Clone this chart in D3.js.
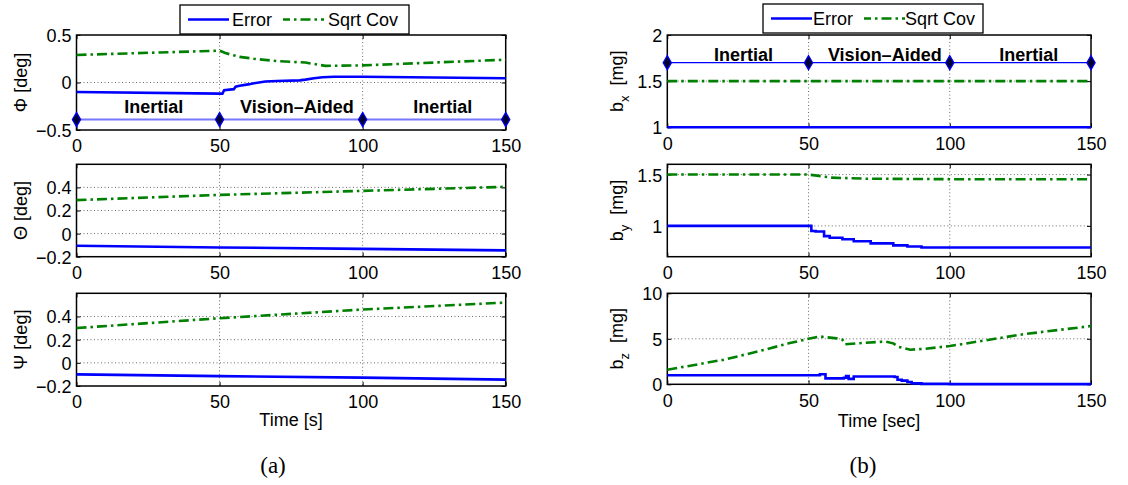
<!DOCTYPE html>
<html><head><meta charset="utf-8">
<script src="https://cdn.jsdelivr.net/npm/d3@7"></script>
<style>
html,body{margin:0;padding:0;background:#fff;}
svg{display:block;font-family:"Liberation Sans",Arial,Helvetica,sans-serif;}
</style></head>
<body><svg id="c" width="1128" height="485"></svg>
<script>
// ---------- data ----------
const timeTicks = [0, 50, 100, 150];
const phaseTimes = [0, 50, 100, 150];
const phaseLabels = ["Inertial", "Vision\u2013Aided", "Inertial"];
const phaseLabelT = [27, 77, 128];

// (a) attitude errors [deg]
const phiErrT = [0, 50, 51, 51.6, 55, 55.6, 57, 60, 62, 66, 70, 78, 80, 83, 86, 90, 100, 150];
const phiErrV = [-0.10, -0.117, -0.117, -0.08, -0.07, -0.045, -0.035, -0.02, -0.008, 0.01, 0.015, 0.022, 0.03, 0.045, 0.055, 0.06, 0.06, 0.045];
const phiCovT = [0, 50, 52, 57, 62, 70, 80, 87, 100, 125, 150];
const phiCovV = [0.29, 0.335, 0.31, 0.27, 0.25, 0.225, 0.21, 0.175, 0.18, 0.21, 0.24];
const thetaT = [0, 50, 100, 150];
const thetaErrV = [-0.105, -0.12, -0.132, -0.145];
const thetaCovV = [0.29, 0.335, 0.37, 0.405];
const psiT = [0, 50, 100, 150];
const psiErrV = [-0.10, -0.115, -0.128, -0.145];
const psiCovV = [0.30, 0.385, 0.46, 0.52];

// (b) accelerometer bias [mg]
const bxT = [0, 150];
const bxErrV = [1.0, 1.0];
const bxCovV = [1.5, 1.5];
const byErrT = [0, 51, 52.5, 55.5, 57.5, 62, 66, 72, 80, 85, 90, 150];
const byErrV = [1.0, 0.95, 0.945, 0.9, 0.885, 0.87, 0.85, 0.83, 0.81, 0.80, 0.79, 0.79];
const byCovT = [0, 50, 53, 58, 70, 100, 150];
const byCovV = [1.5, 1.5, 1.49, 1.47, 1.46, 1.455, 1.455];
const bzErrT = [0, 54, 56, 62.5, 63.3, 64.2, 66, 80.5, 81.5, 83, 85, 86.5, 90, 100, 150];
const bzErrV = [1.0, 1.1, 0.65, 0.72, 0.9, 0.6, 0.85, 0.8, 0.5, 0.4, 0.25, 0.1, 0.05, 0.02, 0.02];
const bzCovT = [0, 20, 32, 43, 50, 54, 60, 62, 63, 67, 77, 80, 82, 86, 91, 100, 114, 126, 150];
const bzCovV = [1.6, 2.7, 3.6, 4.5, 5.0, 5.25, 5.05, 4.9, 4.4, 4.5, 4.7, 4.5, 4.1, 3.8, 3.9, 4.2, 4.9, 5.5, 6.4];

// tick labels
const phiTicks = [-0.5, 0, 0.5];
const angTicks = [-0.2, 0, 0.2, 0.4];
const bxTicks = [1, 1.5, 2];
const byTicks = [1, 1.5];
const bzTicks = [0, 5, 10];

const zip = (t, v) => t.map((x, i) => [x, v[i]]);
const fmt = v => (v < 0 ? "\u2212" : "") + String(Math.abs(v));

// ---------- drawing ----------
const svg = d3.select("#c");
const BLUE = "#0000ff", GREEN = "#008000";
const COVDASH = "10,4,2.5,4";

function panel(o) {
  const x = d3.scaleLinear().domain([0, 150]).range([o.x0, o.x1]);
  const y = d3.scaleLinear().domain(o.ydom).range([o.y1, o.y0]);
  const g = svg.append("g");
  // grid
  timeTicks.filter(t => t > 0 && t < 150).forEach(t => {
    g.append("line").attr("x1", x(t)).attr("x2", x(t)).attr("y1", o.y0).attr("y2", o.y1)
      .attr("stroke", "#444").attr("stroke-width", 0.8).attr("stroke-dasharray", "1,2.5");
  });
  o.yticks.filter(v => v > o.ydom[0] && v < o.ydom[1]).forEach(v => {
    g.append("line").attr("x1", o.x0).attr("x2", o.x1).attr("y1", y(v)).attr("y2", y(v))
      .attr("stroke", "#444").attr("stroke-width", 0.8).attr("stroke-dasharray", "1,2.5");
  });
  // axes via d3
  const ax = g.append("g").attr("transform", `translate(0,${o.y1})`)
    .call(d3.axisBottom(x).tickValues(timeTicks).tickSize(-4).tickPadding(7).tickFormat(d3.format("d")));
  const ay = g.append("g").attr("transform", `translate(${o.x0},0)`)
    .call(d3.axisLeft(y).tickValues(o.yticks).tickSize(-4).tickPadding(5).tickFormat(fmt));
  const ax2 = g.append("g").attr("transform", `translate(0,${o.y0})`)
    .call(d3.axisTop(x).tickValues(timeTicks).tickSize(-4).tickFormat(""));
  const ay2 = g.append("g").attr("transform", `translate(${o.x1},0)`)
    .call(d3.axisRight(y).tickValues(o.yticks).tickSize(-4).tickFormat(""));
  [ax, ay, ax2, ay2].forEach(a => {
    a.select(".domain").remove();
    a.selectAll("line").attr("stroke", "#000").attr("stroke-width", 1);
    a.selectAll("text").attr("fill", "#000").style("font-size", "18px")
      .style("font-family", "'Liberation Sans',Arial,sans-serif");
  });
  ax.selectAll("text").attr("dy", "0.85em");
  ay.selectAll("text").attr("dy", "0.36em");
  g.append("rect").attr("x", o.x0).attr("y", o.y0).attr("width", o.x1 - o.x0).attr("height", o.y1 - o.y0)
    .attr("fill", "none").attr("stroke", "#000").attr("stroke-width", 1.5);

  // phase line
  if (o.phase) {
    const py = y(o.phase.v);
    g.append("line").attr("x1", x(0)).attr("x2", x(150)).attr("y1", py).attr("y2", py)
      .attr("stroke", o.phase.color).attr("stroke-width", o.phase.w);
    g.selectAll(".dm").data(phaseTimes).enter().append("path")
      .attr("d", d3.symbol(d3.symbolDiamond, 60))
      .attr("transform", d => `translate(${x(d)},${py})`)
      .attr("fill", "#000033").attr("stroke", BLUE).attr("stroke-width", 1.2);
    phaseLabels.forEach((s, i) => {
      g.append("text").attr("x", x(phaseLabelT[i])).attr("y", y(o.phase.tv))
        .attr("text-anchor", "middle").style("font-size", "18px").style("font-weight", "bold").text(s);
    });
  }
  const line = d3.line().x(d => x(d[0])).y(d => y(d[1]));
  const stepLine = d3.line().x(d => x(d[0])).y(d => y(d[1])).curve(d3.curveStepAfter);
  g.append("path").datum(o.cov).attr("d", line).attr("fill", "none")
    .attr("stroke", GREEN).attr("stroke-width", 2.6).attr("stroke-dasharray", COVDASH);
  g.append("path").datum(o.err).attr("d", o.step ? stepLine : line).attr("fill", "none")
    .attr("stroke", BLUE).attr("stroke-width", 2.6);

  // y label
  const yl = g.append("text").attr("transform", `translate(${o.ylx},${(o.y0 + o.y1) / 2}) rotate(-90)`)
    .attr("text-anchor", "middle").style("font-size", "18px");
  o.ylabel(yl);
  return {x, y};
}

const L0 = 76.5, L1 = 505.7, R0 = 667.3, R1 = 1091;

panel({x0: L0, x1: L1, y0: 35, y1: 130, ydom: [-0.5, 0.5], yticks: phiTicks,
  err: zip(phiErrT, phiErrV), cov: zip(phiCovT, phiCovV), ylx: 27,
  phase: {v: -0.39, tv: -0.32, color: "#7777ff", w: 2},
  ylabel: t => t.text("\u03a6 [deg]")});
panel({x0: L0, x1: L1, y0: 164.3, y1: 256.7, ydom: [-0.2, 0.6], yticks: angTicks,
  err: zip(thetaT, thetaErrV), cov: zip(thetaT, thetaCovV), ylx: 27,
  ylabel: t => t.text("\u0398 [deg]")});
panel({x0: L0, x1: L1, y0: 293.3, y1: 386, ydom: [-0.2, 0.6], yticks: angTicks,
  err: zip(psiT, psiErrV), cov: zip(psiT, psiCovV), ylx: 27,
  ylabel: t => t.text("\u03a8 [deg]")});

function bLabel(sub) {
  return t => {
    t.append("tspan").text("b");
    t.append("tspan").attr("dy", 6).style("font-size", "13px").text(sub);
    t.append("tspan").attr("dy", -6).text("\u00a0\u00a0[mg]");
  };
}
panel({x0: R0, x1: R1, y0: 35, y1: 127.3, ydom: [1, 2], yticks: bxTicks,
  err: zip(bxT, bxErrV), cov: zip(bxT, bxCovV), ylx: 623,
  phase: {v: 1.7, tv: 1.715, color: BLUE, w: 1.3},
  ylabel: bLabel("x")});
panel({x0: R0, x1: R1, y0: 164.3, y1: 256.7, ydom: [0.7, 1.6], yticks: byTicks,
  err: zip(byErrT, byErrV), cov: zip(byCovT, byCovV), ylx: 623, step: true,
  ylabel: bLabel("y")});
panel({x0: R0, x1: R1, y0: 293.3, y1: 384.3, ydom: [0, 10], yticks: bzTicks,
  err: zip(bzErrT, bzErrV), cov: zip(bzCovT, bzCovV), ylx: 623, step: true,
  ylabel: bLabel("z")});

// x labels
svg.append("text").attr("x", 291).attr("y", 426).attr("text-anchor", "middle").style("font-size", "18px").text("Time [s]");
svg.append("text").attr("x", 879).attr("y", 427).attr("text-anchor", "middle").style("font-size", "18px").text("Time [sec]");
// captions
svg.append("text").attr("x", 273).attr("y", 473).attr("text-anchor", "middle")
  .style("font-family", "'Liberation Serif','DejaVu Serif',serif").style("font-size", "23px").text("(a)");
svg.append("text").attr("x", 863).attr("y", 473).attr("text-anchor", "middle")
  .style("font-family", "'Liberation Serif','DejaVu Serif',serif").style("font-size", "23px").text("(b)");

// legends
function legend(bx, by, bw, bh, l1x, e1x, l2x, e2x) {
  const g = svg.append("g");
  g.append("rect").attr("x", bx).attr("y", by).attr("width", bw).attr("height", bh)
    .attr("fill", "#fff").attr("stroke", "#000").attr("stroke-width", 1.3);
  const cy = by + bh / 2;
  g.append("line").attr("x1", l1x).attr("x2", l1x + 41).attr("y1", cy).attr("y2", cy)
    .attr("stroke", BLUE).attr("stroke-width", 2.6);
  g.append("text").attr("x", e1x).attr("y", cy).attr("dy", "0.36em").style("font-size", "18px").text("Error");
  g.append("line").attr("x1", l2x).attr("x2", l2x + 41).attr("y1", cy).attr("y2", cy)
    .attr("stroke", GREEN).attr("stroke-width", 2.6).attr("stroke-dasharray", COVDASH).attr("stroke-dashoffset", 3);
  g.append("text").attr("x", e2x).attr("y", cy).attr("dy", "0.36em").style("font-size", "18px").text("Sqrt Cov");
}
legend(180, 5, 229, 29, 188, 232, 283, 328);
legend(763, 4, 220, 29, 771, 813, 864, 905);
</script></body></html>
